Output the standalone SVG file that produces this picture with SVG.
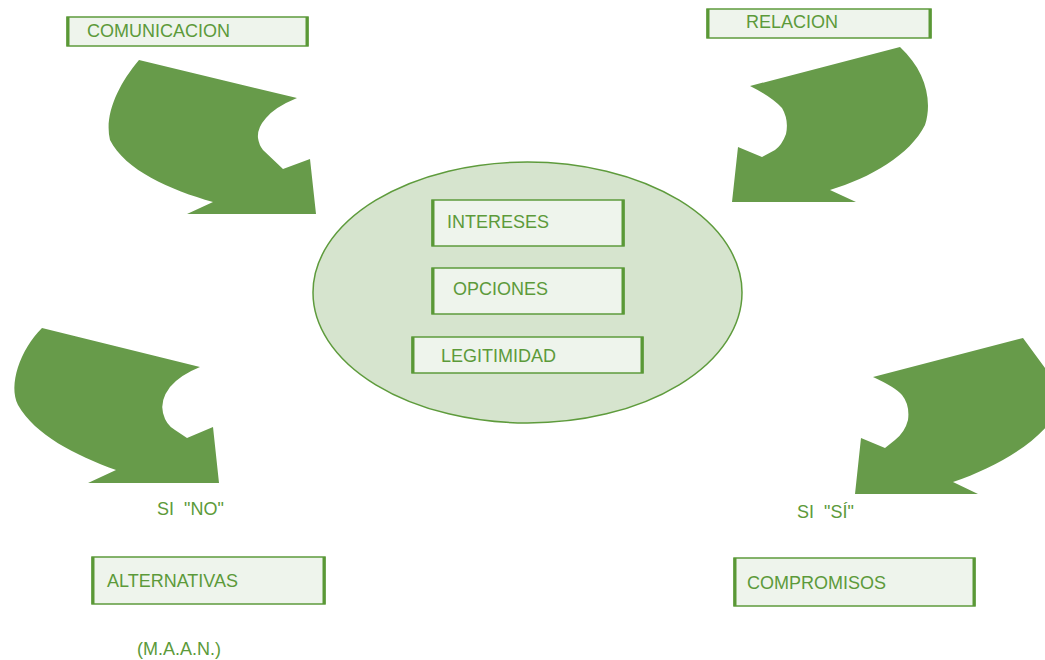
<svg xmlns="http://www.w3.org/2000/svg" width="1045" height="660" viewBox="0 0 1045 660">
  <style>
    .lbl { font-family: "Liberation Sans", Arial, sans-serif; font-size: 18px; fill: #5C9A3A; }
    .box { fill: #EEF4EC; stroke: #5E9B3C; stroke-width: 1.5; }
    .side { stroke: #5A9836; stroke-width: 3; }
    .arrow { fill: #679B4A; }
  </style>
  <rect width="1045" height="660" fill="#FFFFFF"/>

  <!-- big curved arrows -->
  <g id="connectors">
    <path class="arrow" d="M139,60 L297,98 Q275,107 266,118 Q257,128 258,138 Q259,145 263,150 L283,169 L310,159 L316,214 L187,214 L213,202 C170,190 125,170 110,140 C104,115 118,85 139,60 Z"/>
    <path class="arrow" d="M900,47 L750,86 Q772,97 782,108 Q789,120 786,134 Q782,145 775,150 L762,157 L738,147 L732,202 L856,202 L830,190 C870,178 910,155 925,125 C933,100 925,70 900,47 Z"/>
    <path class="arrow" d="M42,328 L200,367 Q180,375 170,387 Q160,400 163,413 Q166,425 175,430 L187,438 L213,427 L219,483 L88,483 L116,470 C75,455 35,435 18,405 C8,385 20,350 42,328 Z"/>
    <path class="arrow" d="M1023,338 L873,377 Q895,387 902,395 Q910,405 908,420 Q905,432 895,440 L885,448 L861,438 L855,494 L978,494 L953,482 C1000,466 1045,440 1065,400 L1065,380 L1045,368 Z"/>
  </g>

  <!-- central ellipse -->
  <g id="core">
    <ellipse cx="527.5" cy="292.5" rx="214.5" ry="130.5" fill="#D6E4CE" stroke="#5E9B3C" stroke-width="1.5"/>
  </g>

  <g id="intereses">
    <rect class="box" x="432" y="200" width="192" height="46"/>
    <line class="side" x1="433" y1="200" x2="433" y2="246"/>
    <line class="side" x1="623" y1="200" x2="623" y2="246"/>
    <text class="lbl" x="447" y="228">INTERESES</text>
  </g>

  <g id="opciones">
    <rect class="box" x="432" y="268" width="192" height="46"/>
    <line class="side" x1="433" y1="268" x2="433" y2="314"/>
    <line class="side" x1="623" y1="268" x2="623" y2="314"/>
    <text class="lbl" x="453" y="295">OPCIONES</text>
  </g>

  <g id="legitimidad">
    <rect class="box" x="412" y="337" width="231" height="36"/>
    <line class="side" x1="413" y1="337" x2="413" y2="373"/>
    <line class="side" x1="642" y1="337" x2="642" y2="373"/>
    <text class="lbl" x="441" y="362">LEGITIMIDAD</text>
  </g>

  <g id="comunicacion">
    <rect class="box" x="67" y="17" width="241" height="29"/>
    <line class="side" x1="68" y1="17" x2="68" y2="46"/>
    <line class="side" x1="307" y1="17" x2="307" y2="46"/>
    <text class="lbl" x="87" y="37">COMUNICACION</text>
  </g>

  <g id="relacion">
    <rect class="box" x="707" y="9" width="224" height="29"/>
    <line class="side" x1="708" y1="9" x2="708" y2="38"/>
    <line class="side" x1="930" y1="9" x2="930" y2="38"/>
    <text class="lbl" x="746" y="28">RELACION</text>
  </g>

  <g id="si-no">
    <text class="lbl" x="157" y="515" xml:space="preserve">SI  "NO"</text>
  </g>

  <g id="alternativas">
    <rect class="box" x="92" y="557" width="233" height="47"/>
    <line class="side" x1="93" y1="557" x2="93" y2="604"/>
    <line class="side" x1="324" y1="557" x2="324" y2="604"/>
    <text class="lbl" x="107" y="587">ALTERNATIVAS</text>
  </g>

  <g id="maan">
    <text class="lbl" x="137" y="655">(M.A.A.N.)</text>
  </g>

  <g id="si-si">
    <text class="lbl" x="797" y="518" xml:space="preserve">SI  "SÍ"</text>
  </g>

  <g id="compromisos">
    <rect class="box" x="734" y="558" width="241" height="48"/>
    <line class="side" x1="735" y1="558" x2="735" y2="606"/>
    <line class="side" x1="974" y1="558" x2="974" y2="606"/>
    <text class="lbl" x="747" y="589">COMPROMISOS</text>
  </g>
</svg>
